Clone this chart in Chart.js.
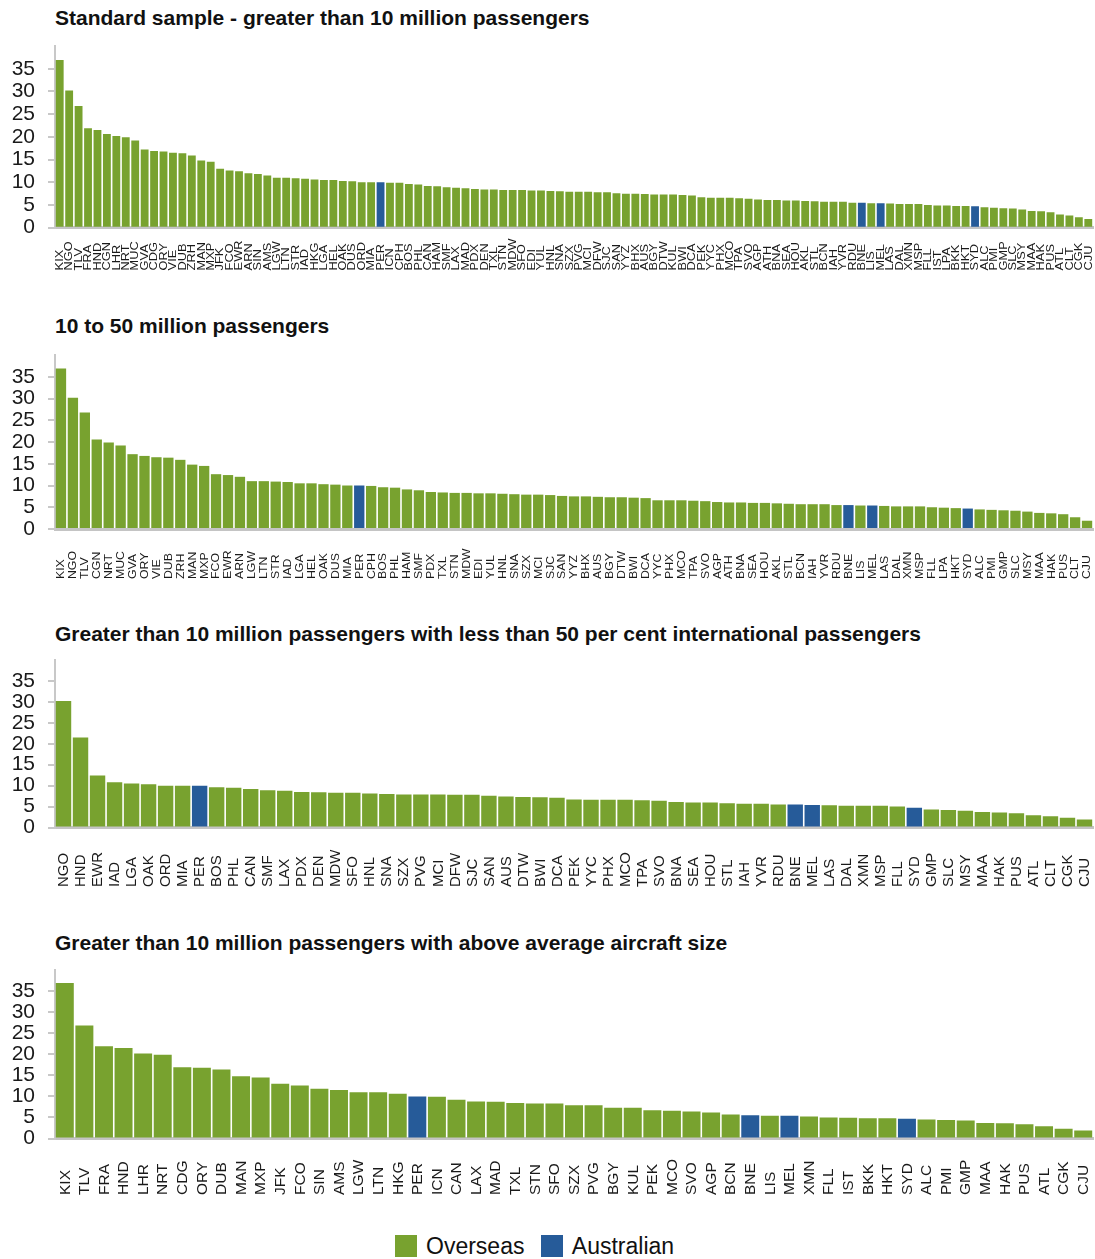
<!DOCTYPE html>
<html>
<head>
<meta charset="utf-8">
<script src="https://cdn.jsdelivr.net/npm/chart.js@4.4.1/dist/chart.umd.min.js"></script>
<style>
    body { margin: 0; background: #fff; font-family: "Liberation Sans", Arial, sans-serif; }
    .titulo { position: absolute; left: 55px; font-weight: bold; font-size: 21px; line-height: 24px; color: #111; white-space: nowrap; }
    canvas { position: absolute; left: 0; }
    #legenda { position: absolute; top: 1235px; left: 395px; font-size: 23px; line-height: 22px; color: #111; white-space: nowrap; }
    #legenda span.caixa { display: inline-block; width: 22px; height: 22px; vertical-align: top; margin-right: 9px; }
    #legenda span.item { margin-right: 10px; }
</style>
</head>
<body>

<script>
// Amostra padrão (> 10 milhões de passageiros) - ordem do gráfico
const aeroportos = ['KIX','NGO','TLV','FRA','HND','CGN','LHR','NRT','MUC','GVA','CDG','ORY','VIE','DUB','ZRH','MAN','MXP','JFK','FCO','EWR',
    'ARN','SIN','AMS','LGW','LTN','STR','IAD','HKG','LGA','HEL','OAK','DUS','ORD','MIA','PER','ICN','CPH','BOS','PHL','CAN',
    'HAM','SMF','LAX','MAD','PDX','DEN','TXL','STN','MDW','SFO','EDI','YUL','HNL','SNA','SZX','PVG','MCI','DFW','SJC','SAN',
    'YYZ','BHX','AUS','BGY','DTW','KUL','BWI','DCA','PEK','YYC','PHX','MCO','TPA','SVO','AGP','ATH','BNA','SEA','HOU','AKL',
    'STL','BCN','IAH','YVR','RDU','BNE','LIS','MEL','LAS','DAL','XMN','MSP','FLL','IST','LPA','BKK','HKT','SYD','ALC','PMI',
    'GMP','SLC','MSY','MAA','HAK','PUS','ATL','CLT','CGK','CJU'];
const valores = [36.9,30.2,26.8,21.9,21.5,20.6,20.2,19.9,19.2,17.2,16.9,16.8,16.5,16.4,15.9,14.8,14.5,13.0,12.6,12.4,
    12.0,11.8,11.5,11.0,11.0,10.9,10.8,10.6,10.5,10.5,10.3,10.2,10.0,10.0,10.0,9.9,9.9,9.6,9.5,9.2,
    9.1,8.9,8.8,8.7,8.5,8.4,8.4,8.3,8.3,8.3,8.2,8.2,8.1,8.0,7.9,7.9,7.9,7.8,7.8,7.6,
    7.5,7.5,7.4,7.3,7.3,7.3,7.2,7.1,6.7,6.6,6.6,6.6,6.5,6.4,6.2,6.1,6.1,6.0,6.0,5.9,
    5.8,5.7,5.7,5.7,5.5,5.5,5.4,5.4,5.3,5.2,5.2,5.2,5.0,4.9,4.9,4.8,4.8,4.7,4.5,4.4,
    4.3,4.2,4.0,3.7,3.6,3.4,2.9,2.7,2.3,1.9];
const australianos = ['PER','BNE','MEL','SYD'];

// 10 a 50 milhões de passageiros
const rotulos10a50 = ['KIX','NGO','TLV','CGN','NRT','MUC','GVA','ORY','VIE','DUB','ZRH','MAN','MXP','FCO','EWR','ARN','LGW','LTN','STR','IAD',
    'LGA','HEL','OAK','DUS','MIA','PER','CPH','BOS','PHL','HAM','SMF','PDX','TXL','STN','MDW','EDI','YUL','HNL','SNA','SZX',
    'MCI','SJC','SAN','YYZ','BHX','AUS','BGY','DTW','BWI','DCA','YYC','PHX','MCO','TPA','SVO','AGP','ATH','BNA','SEA','HOU',
    'AKL','STL','BCN','IAH','YVR','RDU','BNE','LIS','MEL','LAS','DAL','XMN','MSP','FLL','LPA','HKT','SYD','ALC','PMI','GMP',
    'SLC','MSY','MAA','HAK','PUS','CLT','CJU'];

// menos de 50% de passageiros internacionais
const rotulosDomesticos = ['NGO','HND','EWR','IAD','LGA','OAK','ORD','MIA','PER','BOS','PHL','CAN','SMF','LAX','PDX','DEN','MDW','SFO','HNL','SNA',
    'SZX','PVG','MCI','DFW','SJC','SAN','AUS','DTW','BWI','DCA','PEK','YYC','PHX','MCO','TPA','SVO','BNA','SEA','HOU','STL',
    'IAH','YVR','RDU','BNE','MEL','LAS','DAL','XMN','MSP','FLL','SYD','GMP','SLC','MSY','MAA','HAK','PUS','ATL','CLT','CGK','CJU'];

// aeronaves acima da média
const rotulosAeronaves = ['KIX','TLV','FRA','HND','LHR','NRT','CDG','ORY','DUB','MAN','MXP','JFK','FCO','SIN','AMS','LGW','LTN','HKG','PER','ICN',
    'CAN','LAX','MAD','TXL','STN','SFO','SZX','PVG','BGY','KUL','PEK','MCO','SVO','AGP','BCN','BNE','LIS','MEL','XMN','FLL',
    'IST','BKK','HKT','SYD','ALC','PMI','GMP','MAA','HAK','PUS','ATL','CGK','CJU'];

const ticksY = [0, 5, 10, 15, 20, 25, 30, 35];
const maxY = 40;

const corOverseas = '#78a22f';
const corAustralian = '#265b99';

const paineis = [
    { titulo: 'Standard sample - greater than 10 million passengers', rotulos: aeroportos,
      tituloY: 18, topo: 45.6, base: 227.3, baseRotulos: 270, fonte: 10, estica: 1.28 },
    { titulo: '10 to 50 million passengers', rotulos: rotulos10a50,
      tituloY: 326, topo: 355, base: 529, baseRotulos: 579, fonte: 10.5, estica: 1.17 },
    { titulo: 'Greater than 10 million passengers with less than 50 per cent international passengers', rotulos: rotulosDomesticos,
      tituloY: 634, topo: 660, base: 827.5, baseRotulos: 887, fonte: 15, estica: 1 },
    { titulo: 'Greater than 10 million passengers with above average aircraft size', rotulos: rotulosAeronaves,
      tituloY: 943, topo: 970, base: 1138.5, baseRotulos: 1195, fonte: 15.5, estica: 1 }
];

// rótulos do eixo x desenhados alinhados por baixo, como no original
const rotulosX = {
    id: 'rotulosX',
    afterDraw(chart, args, opts) {
        const ctx = chart.ctx;
        const escala = chart.scales.x;
        ctx.save();
        ctx.fillStyle = '#1a1a1a';
        ctx.font = opts.fonte + 'px "Liberation Sans", Arial, sans-serif';
        ctx.textAlign = 'left';
        ctx.textBaseline = 'middle';
        chart.data.labels.forEach((rotulo, i) => {
            ctx.save();
            ctx.translate(escala.getPixelForTick(i) + 0.5, opts.yBase);
            ctx.rotate(-Math.PI / 2);
            ctx.scale(opts.estica, 1);
            ctx.fillText(rotulo, 0, 0);
            ctx.restore();
        });
        ctx.restore();
    }
};

paineis.forEach((p, n) => {
    const tit = document.createElement('div');
    tit.className = 'titulo';
    tit.style.top = (p.tituloY - 12) + 'px';
    tit.textContent = p.titulo;
    document.body.appendChild(tit);

    const margemTopo = 25;
    const topoCanvas = p.topo - margemTopo;
    const altura = Math.round(p.baseRotulos + 6 - topoCanvas);
    const canvas = document.createElement('canvas');
    canvas.width = 1095;
    canvas.height = altura;
    canvas.style.top = topoCanvas + 'px';
    document.body.appendChild(canvas);

    const dadosOverseas = p.rotulos.map(a => australianos.includes(a) ? null : valores[aeroportos.indexOf(a)]);
    const dadosAustralian = p.rotulos.map(a => australianos.includes(a) ? valores[aeroportos.indexOf(a)] : null);
    const larguraBarra = 1038 / p.rotulos.length;
    const fracao = (larguraBarra - 1.6) / larguraBarra;

    new Chart(canvas, {
        type: 'bar',
        data: {
            labels: p.rotulos,
            datasets: [
                { label: 'Overseas', data: dadosOverseas, backgroundColor: corOverseas },
                { label: 'Australian', data: dadosAustralian, backgroundColor: corAustralian }
            ]
        },
        options: {
            responsive: false,
            animation: false,
            layout: { padding: { top: margemTopo, right: 2, left: 0, bottom: 0 } },
            datasets: { bar: { barPercentage: fracao, categoryPercentage: 1 } },
            plugins: {
                legend: { display: false },
                tooltip: { enabled: false },
                rotulosX: { fonte: p.fonte, estica: p.estica, yBase: p.baseRotulos - topoCanvas }
            },
            scales: {
                x: {
                    stacked: true,
                    grid: { display: true, drawOnChartArea: false, drawTicks: false },
                    border: { display: true, color: '#c4c4c4', width: 3 },
                    ticks: { display: false },
                    afterFit: s => { s.height = altura - (p.base - topoCanvas); }
                },
                y: {
                    stacked: true,
                    min: 0,
                    max: maxY,
                    afterBuildTicks: s => { s.ticks = ticksY.map(v => ({ value: v })); },
                    afterFit: s => { s.width = 55; },
                    grid: { drawOnChartArea: false, drawTicks: true, tickLength: 7, color: '#c8c8c8', lineWidth: 2 },
                    border: { display: true, color: '#c8c8c8', width: 2 },
                    ticks: {
                        autoSkip: false,
                        padding: 13,
                        color: '#1a1a1a',
                        font: { family: '"Liberation Sans", Arial, sans-serif', size: 21, lineHeight: 1 }
                    }
                }
            }
        },
        plugins: [rotulosX]
    });
});
</script>

<div id="legenda">
    <span class="item"><span class="caixa" style="background:#78a22f"></span>Overseas</span>
    <span class="item"><span class="caixa" style="background:#265b99"></span>Australian</span>
</div>

</body>
</html>
